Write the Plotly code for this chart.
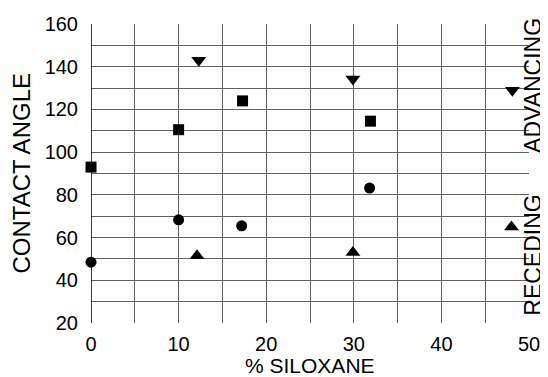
import plotly.graph_objects as go

# Advancing / receding contact angle data
sq_x = [0, 10, 17.3, 31.9]
sq_y = [93, 110.5, 124, 114.5]
tdown_x = [12.3, 29.9, 48.1]
tdown_y = [143, 134.3, 129]
circ_x = [0, 10, 17.2, 31.8]
circ_y = [48.5, 68.3, 65.5, 83.2]
tup_x = [12.1, 29.9, 48.0]
tup_y = [51.5, 53, 65]

x_ticks = [0, 10, 20, 30, 40, 50]
y_ticks = [20, 40, 60, 80, 100, 120, 140, 160]

FONT = "Liberation Sans, Arial, Helvetica, sans-serif"

fig = go.Figure()
series = [
    (sq_x, sq_y, "square", 11),
    (tdown_x, tdown_y, "triangle-down", 13),
    (circ_x, circ_y, "circle", 11),
    (tup_x, tup_y, "triangle-up", 13),
]
for xs, ys, sym, sz in series:
    fig.add_trace(go.Scatter(
        x=xs, y=ys, mode="markers", cliponaxis=False, showlegend=False,
        marker=dict(symbol=sym, size=sz, color="black", line=dict(width=0)),
    ))

grid = "#606060"
fig.update_xaxes(
    range=[0, 50], tickvals=x_ticks, ticktext=[str(v) for v in x_ticks],
    showgrid=True, gridcolor=grid, gridwidth=1,
    minor=dict(dtick=5, showgrid=True, gridcolor=grid, gridwidth=1),
    zeroline=False, showline=False, ticks="", ticklabelstandoff=7,
    tickfont=dict(family=FONT, size=20, color="black"), automargin=False,
)
fig.update_yaxes(
    range=[20, 160], tickvals=y_ticks, ticktext=[str(v) for v in y_ticks],
    showgrid=True, gridcolor=grid, gridwidth=1,
    minor=dict(dtick=10, tick0=20, showgrid=True, gridcolor=grid, gridwidth=1),
    zeroline=False, showline=False, ticks="", ticklabelstandoff=12,
    tickfont=dict(family=FONT, size=20, color="black"), automargin=False,
)
# solid left axis line
fig.add_shape(type="line", xref="x", yref="paper", x0=0, x1=0, y0=0, y1=1,
              line=dict(color="black", width=1.5))

# axis titles
fig.add_annotation(text="% SILOXANE", xref="paper", yref="paper", x=0.5, y=0,
                   xanchor="center", yanchor="middle", yshift=-42, showarrow=False,
                   borderpad=0, font=dict(family=FONT, size=21, color="black"))
fig.add_annotation(text="CONTACT ANGLE", xref="paper", yref="paper", x=0, y=0.5,
                   xanchor="center", yanchor="middle", xshift=-70, textangle=-90,
                   showarrow=False, font=dict(family=FONT, size=24, color="black"))

# side labels
fig.add_annotation(text="ADVANCING", xref="paper", yref="y", x=1, y=131,
                   xanchor="center", yanchor="middle", textangle=-90, showarrow=False,
                   xshift=4, borderpad=0, font=dict(family=FONT, size=23, color="black"))
fig.add_annotation(text="RECEDING", xref="paper", yref="y", x=1, y=51.5,
                   xanchor="center", yanchor="middle", textangle=-90, showarrow=False,
                   xshift=4, borderpad=0, font=dict(family=FONT, size=23, color="black"))

# page body has an 8px margin, so the figure is shrunk by 8px each way
fig.update_layout(
    width=540, height=369,
    margin=dict(l=83, r=19, t=16, b=54),
    paper_bgcolor="white", plot_bgcolor="white",
    font=dict(family=FONT, color="black"),
)
fig.write_html("out.html")
